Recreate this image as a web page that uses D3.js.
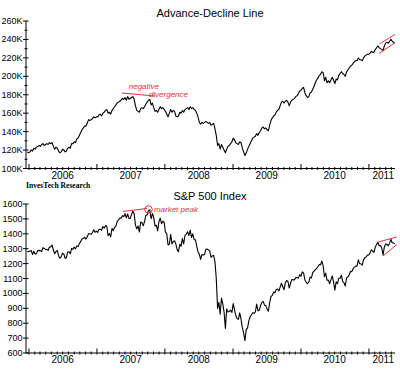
<!DOCTYPE html>
<html><head><meta charset="utf-8">
<script src="https://cdn.jsdelivr.net/npm/d3@7"></script>
<style>html,body{margin:0;padding:0;background:#fff;} svg{display:block;}</style>
</head><body><svg id="c" width="400" height="369"></svg>
<script>
// ---- data (weekly closes, Fridays, starting 2005-12-23) ----
const firstWeek = "2005-12-23";
const ad2005 = [118, 117];
const ad2006 = [118,120,119,122, 121,123,124,125, 124,126,127,125,126, 127,126,128,127, 128,124,121,123, 122,119,117,118,121, 120,118,119,122, 123,122,127,127, 129,128,132,133,136, 139,142,144,146, 146,149,153,152, 153,154,156,155,156];
const ad2007 = [156,158,159,157, 160,161,163,164, 160,161,159,163,165, 167,169,171,172, 173,174,176,175, 177,174,178,175,176, 177,178,175,168, 163,162,161,165,166, 165,167,170,172, 174,175,169,171, 166,162,163,161,164, 167,165,166,164];
const ad2008 = [162,159,156,160, 164,161,163,162,157, 156,157,161,160, 163,161,164,165, 166,164,167,165,166, 164,163,160,156, 150,148,150,149, 150,151,150,149,150, 147,148,149,143, 136,125,127,121,126, 123,120,117,121, 124,125,127,129];
const ad2009 = [133,131,128,127,126, 129,128,122,118, 114,117,121,124, 127,130,133,134, 135,138,136,139,141, 144,145,143,144, 142,141,147,152,155, 157,158,161,163, 164,168,172,173, 171,173,174,172,168, 172,174,175,176, 178,179,181,184];
const ad2010 = [185,187,188,182,179, 177,178,182,183, 186,189,193,196, 198,201,202,205,204, 195,199,193,195, 193,196,199,196, 192,197,196,201,203, 205,203,202,200, 205,207,209,211, 212,214,216,217,217, 220,218,218,217, 220,222,223,224,224];
const ad2011 = [225,227,226,226, 229,231,233,231, 230,229,228,233, 236,237,236,238,240, 238,237,236];

const spx2005 = [1282, 1280];
const spx2006 = [1285,1287,1261,1283, 1264,1267,1287,1289, 1287,1281,1307,1302,1295, 1295,1289,1311,1311, 1325,1291,1267,1280, 1288,1253,1236,1245,1270, 1265,1236,1240,1278, 1279,1266,1302,1296, 1311,1299,1319,1314,1336, 1349,1366,1369,1377, 1364,1380,1401,1400, 1397,1409,1427,1410,1418];
const spx2007 = [1409,1430,1430,1423, 1449,1438,1455,1451, 1387,1402,1380,1437,1421, 1443,1452,1484,1494, 1505,1505,1522,1515, 1536,1507,1533,1503,1503, 1530,1552,1534,1458, 1433,1453,1412,1479,1474, 1454,1484,1525,1527, 1557,1561,1501,1536, 1509,1453,1458,1420,1481, 1505,1468,1484,1478];
const spx2008 = [1411,1401,1325,1331, 1396,1332,1349,1353,1331, 1294,1280,1330,1316, 1370,1332,1390,1398, 1414,1388,1425,1375,1400, 1361,1360,1318,1278, 1262,1228,1261,1257, 1261,1296,1298,1292,1283, 1242,1252,1255,1213, 1099,899,940,860,968, 930,873,765,896, 876,879,887,872];
const spx2009 = [932,890,850,832,826, 869,827,770,735, 683,757,769,816, 843,857,870,866, 877,929,883,887,919, 940,946,921,918, 896,880,940,979,987, 1010,1005,1026,1029, 1016,1042,1068,1044, 1025,1071,1087,1080,1036, 1069,1093,1091,1091, 1106,1106,1102,1126];
const spx2010 = [1115,1145,1136,1092,1074, 1066,1075,1109,1104, 1139,1150,1160,1167, 1179,1194,1192,1217,1187, 1111,1136,1088,1089, 1065,1092,1117,1076, 1022,1078,1065,1102,1102, 1122,1080,1071,1050, 1105,1110,1125,1149, 1146,1166,1176,1183,1183, 1225,1200,1199,1189, 1225,1240,1244,1257,1258];
const spx2011 = [1272,1293,1283,1276, 1310,1329,1343,1320, 1321,1304,1258,1313, 1332,1329,1319,1337,1363, 1340,1338,1333];

const yearLabels = ["2006","2007","2008","2009","2010","2011"];
const yearLabelDates = ["2006-07-01","2007-07-01","2008-07-01","2009-07-01","2010-07-01","2011-03-19"];
const adTicks = [100,120,140,160,180,200,220,240,260];
const adTickLabels = ["100K","120K","140K","160K","180K","200K","220K","240K","260K"];
const spxTicks = [600,700,800,900,1000,1100,1200,1300,1400,1500,1600];

// annotations (date, value)
const adDivergence = [["2007-05-15",181.9],["2007-11-09",178.6]];
const adNegText = ["2007-06-21",186.2];
const adDivText = ["2007-10-07",177.5];
const adChannelUpper = [["2011-02-26",235],["2011-05-21",245.5]];
const adChannelLower = [["2011-02-26",225],["2011-05-21",236.5]];
const spxPeakLine = [["2007-05-21",1550],["2007-09-27",1570]];
const spxPeakCircle = ["2007-10-05",1563];
const spxPeakText = ["2007-11-03",1546];
const spxChannelUpper = [["2011-02-13",1342],["2011-05-31",1379]];
const spxChannelLower = [["2011-03-17",1251],["2011-05-31",1328]];

// ---- drawing ----
const parse = d3.utcParse("%Y-%m-%d");
const start = parse(firstWeek);
const adAll = [].concat(ad2005, ad2006, ad2007, ad2008, ad2009, ad2010, ad2011);
const spxAll = [].concat(spx2005, spx2006, spx2007, spx2008, spx2009, spx2010, spx2011);
const adData = adAll.map((v,i)=>({d:d3.utcDay.offset(start,7*i), v}));
const spxData = spxAll.map((v,i)=>({d:d3.utcDay.offset(start,7*i), v}));

const svg = d3.select("#c");
svg.append("rect").attr("width",400).attr("height",369).attr("fill","#fff");

const x = d3.scaleUtc().domain([parse("2005-12-16"), parse("2011-05-21")]).range([26, 395]);
const yA = d3.scaleLinear().domain([100,260]).range([168.5,21]);
const yS = d3.scaleLinear().domain([600,1600]).range([353,204]);

const NARROW = "'Liberation Sans Narrow','Arial Narrow','Liberation Sans',Arial,sans-serif";
const RED = "#e0303a";

function panel(y, ticks, labels, minorTicks) {
  const g = svg.append("g");
  const [y0, y1] = y.range();
  g.append("line").attr("x1",26).attr("x2",26).attr("y1",y1).attr("y2",y0).attr("stroke","#000").attr("stroke-width",1);
  g.append("line").attr("x1",26).attr("x2",395).attr("y1",y0).attr("y2",y0).attr("stroke","#000").attr("stroke-width",1);
  ticks.forEach((t,i)=>{
    g.append("line").attr("x1",23).attr("x2",28.5).attr("y1",y(t)).attr("y2",y(t)).attr("stroke","#000");
    g.append("text").attr("x",22.5).attr("y",y(t)+3).attr("text-anchor","end")
      .attr("font-family",NARROW).attr("font-size",9).attr("fill","#000").text(labels[i]);
  });
  minorTicks.forEach(t=>{
    g.append("line").attr("x1",24.5).attr("x2",27.5).attr("y1",y(t)).attr("y2",y(t)).attr("stroke","#000");
  });
  const months = d3.utcMonth.range(parse("2006-01-01"), parse("2011-05-22"));
  months.forEach(m=>{
    const isYear = m.getUTCMonth()===0;
    g.append("line").attr("x1",x(m)).attr("x2",x(m))
      .attr("y1", y0 - (isYear?4.5:1.5)).attr("y2", y0 + 1.5)
      .attr("stroke","#000").attr("stroke-width",1);
  });
  yearLabels.forEach((lab,i)=>{
    g.append("text").attr("x",x(parse(yearLabelDates[i]))).attr("y",y0+10).attr("text-anchor","middle")
      .attr("font-family",NARROW).attr("font-size",10).attr("fill","#000").text(lab);
  });
  return g;
}

panel(yA, adTicks, adTickLabels, d3.range(110,260,20));
panel(yS, spxTicks, spxTicks.map(String), []);

const lineA = d3.line().x(d=>x(d.d)).y(d=>yA(d.v));
const lineS = d3.line().x(d=>x(d.d)).y(d=>yS(d.v));
svg.append("path").datum(adData).attr("d",lineA).attr("fill","none").attr("stroke","#000").attr("stroke-width",1.1).attr("stroke-linejoin","round");
svg.append("path").datum(spxData).attr("d",lineS).attr("fill","none").attr("stroke","#000").attr("stroke-width",1.1).attr("stroke-linejoin","round");

svg.append("text").attr("x",210).attr("y",17).attr("text-anchor","middle").attr("font-family","'Liberation Sans',Arial,sans-serif").attr("font-size",11).attr("fill","#000").text("Advance-Decline Line");
svg.append("text").attr("x",210).attr("y",200).attr("text-anchor","middle").attr("font-family","'Liberation Sans',Arial,sans-serif").attr("font-size",11).attr("fill","#000").text("S&P 500 Index");
svg.append("text").attr("x",26).attr("y",188).attr("font-family","'Liberation Serif','Times New Roman',serif").attr("font-weight","bold").attr("font-size",7.6).attr("fill","#000").text("InvesTech Research");

function seg(pts, y) {
  svg.append("line").attr("x1",x(parse(pts[0][0]))).attr("y1",y(pts[0][1]))
    .attr("x2",x(parse(pts[1][0]))).attr("y2",y(pts[1][1])).attr("stroke",RED).attr("stroke-width",1);
}
function note(p, y, txt) {
  svg.append("text").attr("x",x(parse(p[0]))).attr("y",y(p[1])).attr("font-family",NARROW)
    .attr("font-style","italic").attr("font-size",8).attr("fill",RED).text(txt);
}
seg(adDivergence, yA);
note(adNegText, yA, "negative");
note(adDivText, yA, "divergence");
seg(adChannelUpper, yA);
seg(adChannelLower, yA);
seg(spxPeakLine, yS);
svg.append("circle").attr("cx",x(parse(spxPeakCircle[0]))).attr("cy",yS(spxPeakCircle[1])).attr("r",3.8)
  .attr("fill","none").attr("stroke",RED).attr("stroke-width",1);
note(spxPeakText, yS, "market peak");
seg(spxChannelUpper, yS);
seg(spxChannelLower, yS);
</script></body></html>
